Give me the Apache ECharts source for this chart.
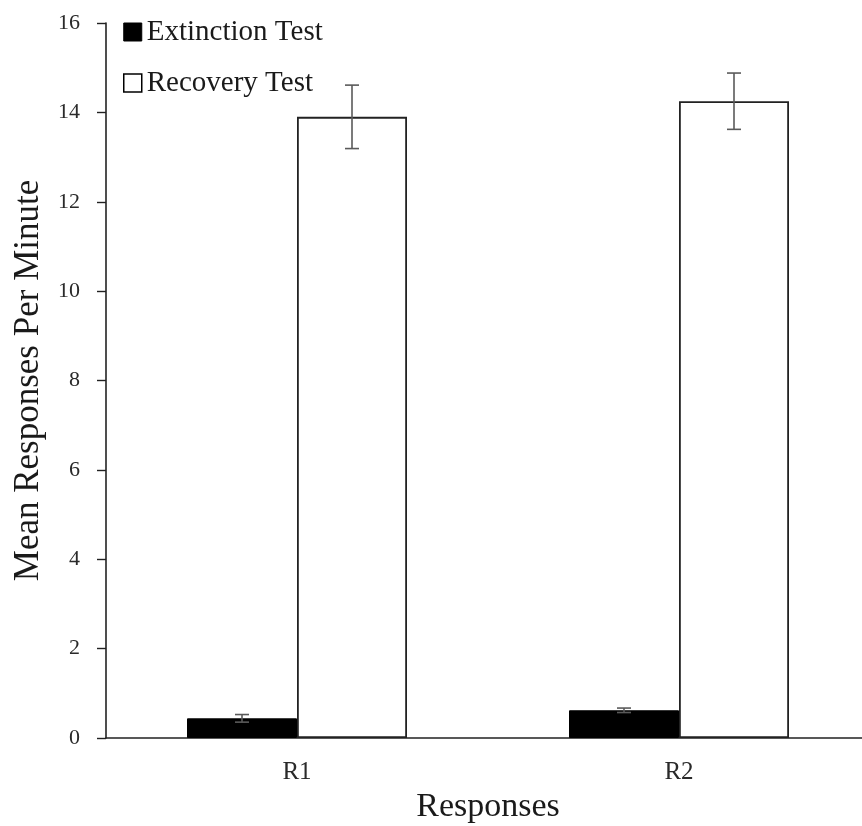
<!DOCTYPE html>
<html>
<head>
<meta charset="utf-8">
<script src="https://cdn.jsdelivr.net/npm/echarts@6/dist/echarts.min.js"></script>
<style>html,body{margin:0;padding:0;background:#fff;}#c{width:862px;height:826px;}</style>
</head>
<body>
<div id="c"></div>
<script>
var categories = ['R1', 'R2'];
var seriesNames = ['Extinction Test', 'Recovery Test'];
var extinction = [0.44, 0.62];
var extinctionErr = [0.085, 0.05];
var recovery = [13.9, 14.25];
var recoveryErr = [0.71, 0.63];
var yTicks = { min: 0, max: 16, interval: 2 };

var BAR_W = 110;
var FONT = '"Liberation Serif", "Times New Roman", serif';

function errSeries(vals, errs, side) {
  var data = vals.map(function (v, i) { return [i, v - errs[i], v + errs[i]]; });
  return {
    type: 'custom',
    silent: true,
    z: 10,
    data: data,
    renderItem: function (params, api) {
      var i = api.value(0);
      var lo = api.coord([i, api.value(1)]);
      var hi = api.coord([i, api.value(2)]);
      var x = lo[0] + side * BAR_W / 2;
      var cap = 7;
      var st = { stroke: '#5a5a5a', lineWidth: 1.6 };
      return {
        type: 'group',
        children: [
          { type: 'line', shape: { x1: x, y1: lo[1], x2: x, y2: hi[1] }, style: st },
          { type: 'line', shape: { x1: x - cap, y1: lo[1], x2: x + cap, y2: lo[1] }, style: st },
          { type: 'line', shape: { x1: x - cap, y1: hi[1], x2: x + cap, y2: hi[1] }, style: st }
        ]
      };
    }
  };
}

var chart = echarts.init(document.getElementById('c'), null, { renderer: 'canvas' });
chart.setOption({
  animation: false,
  backgroundColor: '#fff',
  grid: { left: 106, width: 764, top: 23, height: 715, containLabel: false, outerBoundsMode: 'none' },
  legend: {
    orient: 'vertical',
    left: 118,
    top: 12,
    itemWidth: 18,
    itemHeight: 18,
    itemGap: 21,
    textStyle: { fontFamily: FONT, fontSize: 29, color: '#1a1a1a', lineHeight: 30 },
    data: [
      { name: seriesNames[0], icon: 'rect', itemStyle: { color: '#000', borderColor: '#000', borderWidth: 1 } },
      { name: seriesNames[1], icon: 'rect', itemStyle: { color: '#fff', borderColor: '#000', borderWidth: 1.5 } }
    ]
  },
  xAxis: {
    type: 'category',
    data: categories,
    name: 'Responses',
    nameLocation: 'middle',
    nameGap: 44,
    nameTextStyle: { fontFamily: FONT, fontSize: 34, color: '#1a1a1a' },
    axisLine: { lineStyle: { color: '#222', width: 1.6 } },
    axisTick: { show: false },
    axisLabel: { fontFamily: FONT, fontSize: 25, color: '#2a2a2a', margin: 22 }
  },
  yAxis: {
    type: 'value',
    min: yTicks.min,
    max: yTicks.max,
    interval: yTicks.interval,
    name: 'Mean Responses Per Minute',
    nameLocation: 'middle',
    nameGap: 60,
    nameTextStyle: { fontFamily: FONT, fontSize: 35, color: '#1a1a1a' },
    axisLine: { show: true, lineStyle: { color: '#222', width: 1.6 } },
    axisTick: { show: true, inside: false, length: 9, lineStyle: { color: '#222', width: 1.4 } },
    splitLine: { show: false },
    axisLabel: { fontFamily: FONT, fontSize: 22, color: '#2a2a2a', margin: 26 }
  },
  series: [
    {
      name: seriesNames[0], type: 'bar', data: extinction, barWidth: BAR_W, barGap: '0%',
      itemStyle: { color: '#000', borderColor: '#000', borderWidth: 1 }
    },
    {
      name: seriesNames[1], type: 'bar', data: recovery, barWidth: BAR_W, barGap: '0%',
      itemStyle: { color: '#fff', borderColor: '#222', borderWidth: 1.8 }
    },
    errSeries(extinction, extinctionErr, -1),
    errSeries(recovery, recoveryErr, 1)
  ]
});
</script>
</body>
</html>
